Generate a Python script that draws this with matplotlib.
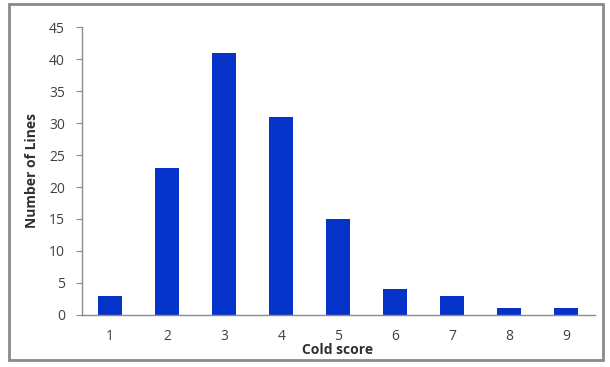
import matplotlib
matplotlib.use('Agg')
import matplotlib.pyplot as plt
from matplotlib.patches import Rectangle

# data
scores = ['1', '2', '3', '4', '5', '6', '7', '8', '9']
counts = [3, 23, 41, 31, 15, 4, 3, 1, 1]
yticks = [0, 5, 10, 15, 20, 25, 30, 35, 40, 45]

plt.rcParams['font.family'] = ['Open Sans', 'DejaVu Sans']

fig = plt.figure(figsize=(6.1, 3.67), dpi=100)
ax = fig.add_axes([0.134, 0.142, 0.841, 0.784])

x = list(range(len(scores)))
ax.bar(x, counts, width=0.42, color='#0532c8')
ax.set_xlim(-0.5, len(scores) - 0.5)
ax.set_ylim(0, 45)
ax.set_xticks(x)
ax.set_xticklabels(scores)
ax.set_yticks(yticks)

for s in ['top', 'right']:
    ax.spines[s].set_visible(False)
for s in ['left', 'bottom']:
    ax.spines[s].set_color('#8c8c8c')
    ax.spines[s].set_linewidth(1.0)
ax.tick_params(axis='x', length=0, pad=10, labelsize=10, labelcolor='#404040')
ax.tick_params(axis='y', length=4, color='#8c8c8c', pad=8, labelsize=10, labelcolor='#404040')

fig.text(0.553, 0.045, 'Cold score', ha='center', va='center', fontsize=10, fontweight='bold', color='#303030')
fig.text(0.052, 0.535, 'Number of Lines', ha='center', va='center', rotation=90, fontsize=10, fontweight='bold', color='#303030')

# outer frame
fig.patches.append(Rectangle((0.014, 0.02), 0.975, 0.968, transform=fig.transFigure,
                             fill=False, edgecolor='#8a8a8a', linewidth=2))

fig.savefig('out.png', dpi=100)
